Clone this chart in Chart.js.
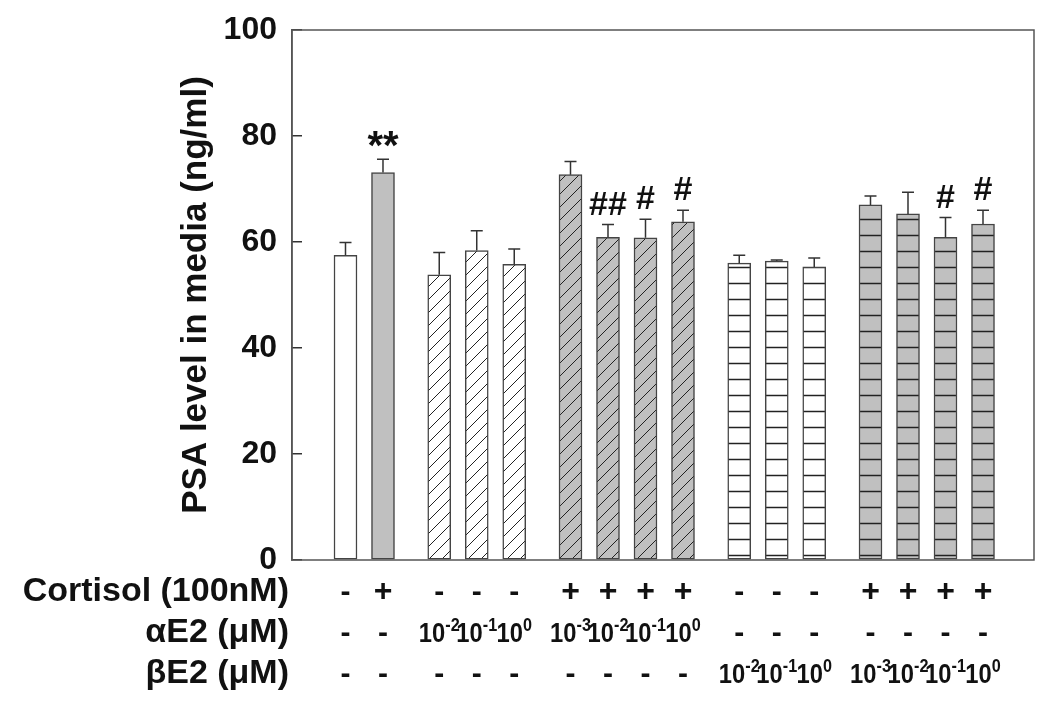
<!DOCTYPE html>
<html>
<head>
<meta charset="utf-8">
<script src="https://cdn.jsdelivr.net/npm/chart.js@4/dist/chart.umd.min.js"></script>
<style>
  body { margin: 0; background: #fff; }
</style>
</head>
<body>
<canvas id="myChart" width="1050" height="712"></canvas>
<script>
// bar values (ng/ml) and their error bars
const psa = [57.5, 73.1, 53.8, 58.4, 55.8, 72.7, 60.9, 60.8, 63.8, 56.0, 56.4, 55.3, 67.0, 65.3, 60.9, 63.4];
const sem = [2.4, 2.5, 4.2, 3.7, 2.9, 2.5, 2.4, 3.5, 2.2, 1.5, 0.2, 1.7, 1.7, 4.1, 3.7, 2.6];
const marks = ['', '**', '', '', '', '', '##', '#', '#', '', '', '', '', '', '#', '#'];
// group of each bar: 0 control, 1 aE2, 2 cortisol+aE2, 3 bE2, 4 cortisol+bE2
const group = [0, 0, 1, 1, 1, 2, 2, 2, 2, 3, 3, 3, 4, 4, 4, 4];

// table under the bars (null = "-", number = exponent of 10)
const cortisol = ['-', '+', '-', '-', '-', '+', '+', '+', '+', '-', '-', '-', '+', '+', '+', '+'];
const alphaE2 = [null, null, -2, -1, 0, -3, -2, -1, 0, null, null, null, null, null, null, null];
const betaE2 = [null, null, null, null, null, null, null, null, null, -2, -1, 0, -3, -2, -1, 0];
const rowLabels = ['Cortisol (100nM)', '\u03b1E2 (\u03bcM)', '\u03b2E2 (\u03bcM)'];
const yTicks = [0, 20, 40, 60, 80, 100];

const FONT = '"Liberation Sans", Arial, sans-serif';
const gray = '#c0c0c0';

function makePattern(bg, kind) {
  const c = document.createElement('canvas');
  const size = kind === 'diag' ? 13 : 16;
  c.width = size; c.height = size;
  const g = c.getContext('2d');
  g.fillStyle = bg;
  g.fillRect(0, 0, size, size);
  g.strokeStyle = '#222';
  if (kind === 'diag') {
    g.lineWidth = 1;
    g.beginPath();
    g.moveTo(-1, size + 1); g.lineTo(size + 1, -1);
    g.moveTo(-2, 1); g.lineTo(1, -2);
    g.moveTo(size - 1, size + 2); g.lineTo(size + 2, size - 1);
    g.stroke();
  } else if (kind === 'horiz') {
    g.lineWidth = 1.5;
    g.beginPath();
    g.moveTo(0, 11.5); g.lineTo(size, 11.5);
    g.stroke();
  }
  return g.createPattern(c, 'repeat');
}

const groupFill = [
  null, // group 0 handled per bar
  makePattern('#fff', 'diag'),
  makePattern(gray, 'diag'),
  makePattern('#fff', 'horiz'),
  makePattern(gray, 'horiz')
];
const fills = psa.map((v, i) => group[i] === 0 ? (i === 0 ? '#fff' : gray) : groupFill[group[i]]);

const errorBars = {
  id: 'errorBars',
  afterDatasetsDraw(chart) {
    const ctx = chart.ctx;
    const xs = chart.scales.x, ys = chart.scales.y;
    ctx.save();
    ctx.strokeStyle = '#333';
    ctx.lineWidth = 1.5;
    psa.forEach((v, i) => {
      const x = xs.getPixelForValue(2 * i + group[i]);
      const y0 = ys.getPixelForValue(v);
      const y1 = ys.getPixelForValue(v + sem[i]);
      ctx.beginPath();
      ctx.moveTo(x, y0); ctx.lineTo(x, y1);
      ctx.moveTo(x - 6, y1); ctx.lineTo(x + 6, y1);
      ctx.stroke();
      if (marks[i]) {
        ctx.fillStyle = '#111';
        ctx.font = (marks[i] === '**' ? 'bold 40px ' : 'bold 34px ') + FONT;
        ctx.textAlign = 'center';
        ctx.textBaseline = 'alphabetic';
        ctx.fillText(marks[i], x, y1 - (marks[i] === '**' ? 0 : 10));
      }
    });
    // plot frame
    const a = chart.chartArea;
    ctx.strokeStyle = '#555';
    ctx.strokeRect(a.left, a.top, a.right - a.left, a.bottom - a.top);
    ctx.restore();
  }
};

function drawPower(ctx, x, y, exp) {
  ctx.save();
  ctx.font = 'bold 27px ' + FONT;
  const w1 = ctx.measureText('10').width * 0.88;
  ctx.font = 'bold 18px ' + FONT;
  const sup = String(exp);
  const w2 = ctx.measureText(sup).width * 0.9;
  const left = x - (w1 + w2) / 2;
  ctx.textAlign = 'left';
  ctx.textBaseline = 'middle';
  ctx.save();
  ctx.translate(left, y);
  ctx.scale(0.88, 1);
  ctx.font = 'bold 27px ' + FONT;
  ctx.fillText('10', 0, 0);
  ctx.restore();
  ctx.save();
  ctx.translate(left + w1, y - 9);
  ctx.scale(0.9, 1);
  ctx.font = 'bold 18px ' + FONT;
  ctx.fillText(sup, 0, 0);
  ctx.restore();
  ctx.restore();
}

const table = {
  id: 'table',
  afterDraw(chart) {
    const ctx = chart.ctx;
    const xs = chart.scales.x;
    const a = chart.chartArea;
    const rowY = [592, 633, 674];
    ctx.save();
    ctx.fillStyle = '#111';
    // y axis title
    ctx.save();
    ctx.translate(196, (a.top + a.bottom) / 2);
    ctx.rotate(-Math.PI / 2);
    ctx.font = 'bold 35px ' + FONT;
    ctx.textAlign = 'center';
    ctx.textBaseline = 'middle';
    ctx.fillText('PSA level in media (ng/ml)', 0, 0);
    ctx.restore();
    // row headers
    ctx.font = 'bold 34px ' + FONT;
    ctx.textAlign = 'right';
    ctx.textBaseline = 'middle';
    rowLabels.forEach((t, r) => ctx.fillText(t, 289, rowY[r]));
    // cells
    const rows = [cortisol, alphaE2, betaE2];
    psa.forEach((v, i) => {
      const x = xs.getPixelForValue(2 * i + group[i]);
      rows.forEach((row, r) => {
        const cell = row[i];
        if (cell === null || cell === '-') {
          ctx.font = 'bold 30px ' + FONT;
          ctx.textAlign = 'center';
          ctx.textBaseline = 'middle';
          ctx.fillText('-', x, rowY[r] + 1);
        } else if (cell === '+') {
          ctx.font = 'bold 32px ' + FONT;
          ctx.textAlign = 'center';
          ctx.textBaseline = 'middle';
          ctx.fillText('+', x, rowY[r]);
        } else {
          drawPower(ctx, x, rowY[r] + 2, cell);
        }
      });
    });
    ctx.restore();
  }
};

const ctx = document.getElementById('myChart').getContext('2d');
const myChart = new Chart(ctx, {
  type: 'bar',
  data: {
    datasets: [{
      data: psa.map((v, i) => ({ x: 2 * i + group[i], y: v })),
      backgroundColor: fills,
      borderColor: '#444',
      borderWidth: 1.5,
      borderSkipped: false,
      barThickness: 23
    }]
  },
  options: {
    responsive: false,
    animation: false,
    layout: { padding: { left: 0, right: 16, top: 30, bottom: 152 } },
    plugins: {
      legend: { display: false },
      tooltip: { enabled: false }
    },
    scales: {
      x: {
        type: 'linear',
        min: -2.853,
        max: 36.72,
        offset: false,
        display: false
      },
      y: {
        min: 0,
        max: 100,
        afterBuildTicks: (scale) => { scale.ticks = yTicks.map(v => ({ value: v })); },
        afterFit: (scale) => {
          scale.width = 292;
          scale.paddingTop = 0;
          scale.paddingBottom = 0;
        },
        ticks: {
          color: '#111',
          padding: 25,
          font: { family: FONT, size: 32, weight: 'bold' }
        },
        grid: {
          drawOnChartArea: false,
          tickLength: -10,
          color: '#333',
          lineWidth: 1.5
        },
        border: { color: '#555', width: 1.5 }
      }
    }
  },
  plugins: [errorBars, table]
});
</script>
</body>
</html>
